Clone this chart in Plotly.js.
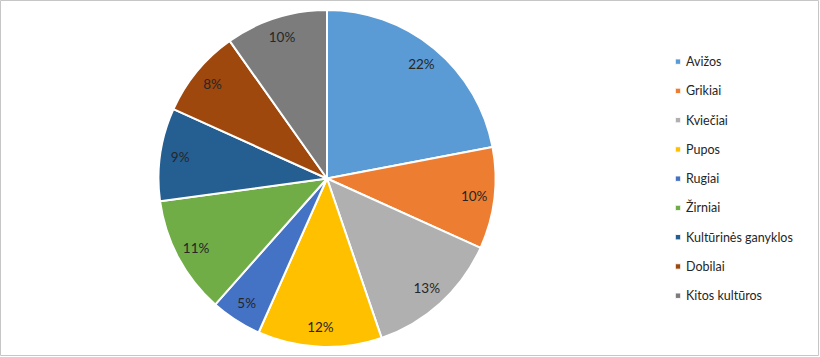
<!DOCTYPE html>
<html>
<head>
<meta charset="utf-8">
<script src="https://cdn.plot.ly/plotly-3.0.1.min.js"></script>
<style>
html,body{margin:0;padding:0;background:#fff;}
#chart{width:820px;height:357px;}
</style>
</head>
<body>
<div id="chart"></div>
<script>
const categories = ["Avižos","Grikiai","Kviečiai","Pupos","Rugiai","Žirniai","Kultūrinės ganyklos","Dobilai","Kitos kultūros"];
const shares = [22.0, 9.75, 13.0, 11.9, 4.9, 11.3, 8.9, 8.45, 9.8];
const colors = ["#5B9BD5","#ED7D31","#B0B0B0","#FFC000","#4472C4","#70AD47","#255E91","#9E480E","#7C7C7C"];

const W = 820, H = 357;
const legendLabels = categories.map(c => '<span style="font-size:12.5px">' + c + '</span>');
const pieDomain = {x: [158.5/W, 495.5/W], y: [1 - 347/H, 1 - 10/H]};
const labelFont = {family: 'Lato, "Open Sans", sans-serif', size: 13.5, color: '#262626'};

// filled pie (no text)
const pie = {
  type: 'pie',
  labels: legendLabels,
  values: shares,
  sort: false,
  direction: 'clockwise',
  rotation: 0,
  marker: {colors: colors, line: {color: '#ffffff', width: 2}},
  textinfo: 'none',
  hoverinfo: 'label+percent',
  domain: pieDomain
};

// transparent outer ring carrying the percentage labels near the rim
const ring = {
  type: 'pie',
  labels: legendLabels,
  values: shares,
  sort: false,
  direction: 'clockwise',
  rotation: 0,
  hole: 0.76,
  showlegend: false,
  marker: {colors: categories.map(() => 'rgba(0,0,0,0)'), line: {width: 0}},
  texttemplate: '%{percent:.0%}',
  textposition: 'inside',
  insidetextorientation: 'horizontal',
  textfont: labelFont,
  hoverinfo: 'skip',
  domain: pieDomain
};

const layout = {
  width: W, height: H,
  margin: {l: 0, r: 0, t: 0, b: 0},
  paper_bgcolor: '#ffffff',
  showlegend: true,
  legend: {
    x: 646/W, xanchor: 'left',
    y: 1 - 179/H, yanchor: 'middle',
    font: {family: 'Lato, "Open Sans", sans-serif', size: 20.2, color: '#262626'},
    bgcolor: 'rgba(0,0,0,0)',
    traceorder: 'normal'
  },
  shapes: [{
    type: 'rect', xref: 'paper', yref: 'paper',
    x0: 0.5/W, x1: 818.5/W, y0: 1 - 355.5/H, y1: 1 - 0.5/H,
    line: {color: '#C6C6C6', width: 1}, fillcolor: 'rgba(0,0,0,0)'
  }]
};

Plotly.newPlot('chart', [pie, ring], layout, {staticPlot: true, displayModeBar: false}).then(function(gd){
  gd.querySelectorAll('.legendpie').forEach(function(p){
    p.setAttribute('transform', 'translate(32,0) scale(0.45)');
  });
  gd.querySelectorAll('.legendtext').forEach(function(t){
    const y = parseFloat(t.getAttribute('y') || '0');
    t.setAttribute('y', (y - 3.4).toFixed(2));
  });
});
</script>
</body>
</html>
